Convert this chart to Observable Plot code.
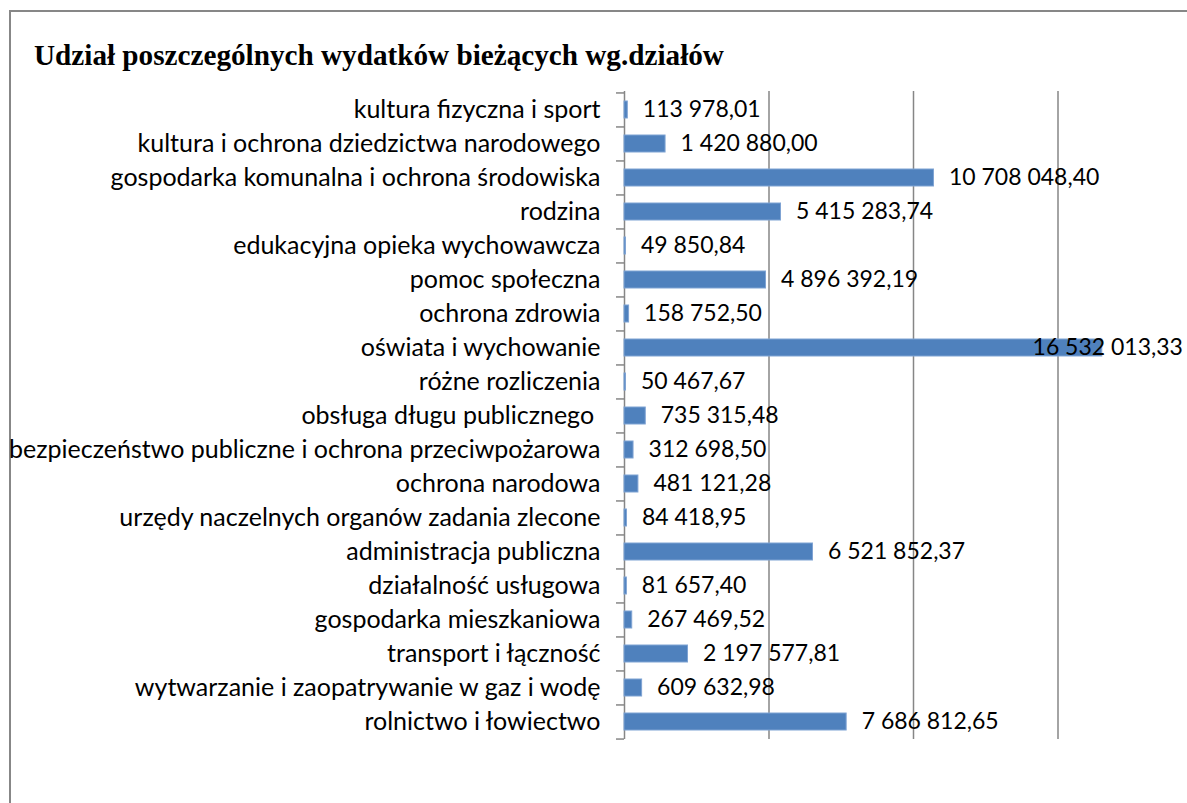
<!DOCTYPE html>
<html>
<head>
<meta charset="utf-8">
<script src="https://cdn.jsdelivr.net/npm/d3@7"></script>
<script src="https://cdn.jsdelivr.net/npm/@observablehq/plot@0.6"></script>
<style>
  html, body { margin: 0; padding: 0; background: #fff; overflow: hidden; width: 1187px; height: 803px; }
  #frame { position: absolute; left: 9px; top: 10px; width: 1300px; height: 900px; border: 2px solid #878787; box-sizing: border-box; }
  #title { position: absolute; left: 34px; top: 41px; font-family: "Liberation Serif", "Times New Roman", serif; font-weight: bold; font-size: 29.2px; line-height: 1; color: #000; white-space: nowrap; }
  #chart { position: absolute; left: 0; top: 0; width: 1210px; }
  #chart svg { max-width: none !important; }
</style>
</head>
<body>
<div id="frame"></div>
<div id="title">Udział poszczególnych wydatków bieżących wg.działów</div>
<div id="chart"></div>
<script>
const categories = [
  "kultura fizyczna i sport",
  "kultura i ochrona dziedzictwa narodowego",
  "gospodarka komunalna i ochrona środowiska",
  "rodzina",
  "edukacyjna opieka wychowawcza",
  "pomoc społeczna",
  "ochrona zdrowia",
  "oświata i wychowanie",
  "różne rozliczenia",
  "obsługa długu publicznego\u00a0",
  "bezpieczeństwo publiczne i ochrona przeciwpożarowa",
  "ochrona narodowa",
  "urzędy naczelnych organów zadania zlecone",
  "administracja publiczna",
  "działalność usługowa",
  "gospodarka mieszkaniowa",
  "transport i łączność",
  "wytwarzanie i zaopatrywanie w gaz i wodę",
  "rolnictwo i łowiectwo"
];
const values = [
  113978.01, 1420880.00, 10708048.40, 5415283.74, 49850.84, 4896392.19,
  158752.50, 16532013.33, 50467.67, 735315.48, 312698.50, 481121.28,
  84418.95, 6521852.37, 81657.40, 267469.52, 2197577.81, 609632.98, 7686812.65
];
const gridTicks = [0, 5e6, 10e6, 15e6];
const xMax = 20e6;
// Excel keeps data labels inside the plot area: labels never start beyond this value
const LABEL_MAX = 13.6e6;

const data = categories.map((c, i) => ({category: c, value: values[i]}));
const pl = d3.formatLocale({decimal: ",", thousands: " ", grouping: [3], currency: ["", ""]});
const fmt = pl.format(",.2f");

const W = 1210, H = 760, mt = 91, mb = 21, ml = 624, mr = 8;
const step = (H - mt - mb) / categories.length;
const gray = "#868686";
const font = "Lato, 'Open Sans', sans-serif";

const chart = Plot.plot({
  width: W, height: H,
  marginTop: mt, marginBottom: mb, marginLeft: ml, marginRight: mr,
  style: {fontFamily: font, fontSize: "25px", color: "#000", background: "transparent", overflow: "visible", maxWidth: "none"},
  x: {domain: [0, xMax], axis: null},
  y: {domain: categories, paddingInner: 0.5, paddingOuter: 0.25, label: null},
  marks: [
    Plot.ruleX(gridTicks, {stroke: gray, strokeWidth: 1.5}),
    Plot.barX(data, {x: "value", y: "category", fill: "#4F81BD", stroke: "#7FA3D3", strokeWidth: 1}),
    Plot.text(data, {x: d => Math.min(d.value, LABEL_MAX), y: "category", text: d => fmt(d.value),
      textAnchor: "start", dx: 15, fill: "#000", fontSize: 23}),
    Plot.axisY({tickSize: 0, tickPadding: 24, fontSize: 25, label: null, fill: "#000"}),
    Plot.axisY({tickSize: 8, tickFormat: () => "", label: null, dy: -step / 2, stroke: gray, strokeWidth: 1.5}),
    Plot.axisY({ticks: [categories[categories.length - 1]], tickSize: 8, tickFormat: () => "", label: null, dy: step / 2, stroke: gray, strokeWidth: 1.5})
  ]
});
document.getElementById("chart").appendChild(chart);
</script>
</body>
</html>
